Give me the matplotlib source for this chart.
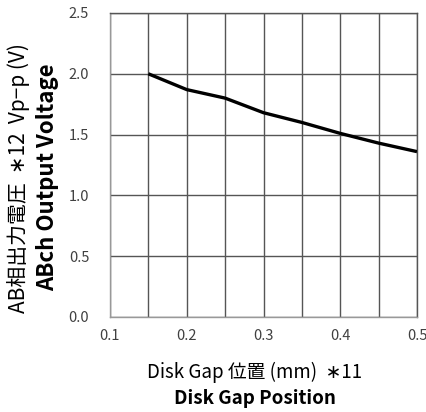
import matplotlib
matplotlib.use('Agg')
import matplotlib.pyplot as plt
import numpy as np

plt.rcParams['font.family'] = ['Noto Sans CJK JP', 'DejaVu Sans']

# data
gap_mm = [0.15, 0.20, 0.25, 0.30, 0.35, 0.40, 0.45, 0.50]
output_v = [2.00, 1.87, 1.80, 1.68, 1.60, 1.51, 1.43, 1.36]

x_ticks = [0.1, 0.2, 0.3, 0.4, 0.5]
x_ticklabels = ['0.1', '0.2', '0.3', '0.4', '0.5']
y_ticks = [0.0, 0.5, 1.0, 1.5, 2.0, 2.5]
y_ticklabels = ['0.0', '0.5', '1.0', '1.5', '2.0', '2.5']

xlabel_jp = 'Disk Gap 位置 (mm)  \u221711'
xlabel_en = 'Disk Gap Position'
ylabel_jp = 'AB相出力電圧  \u221712  Vp\u2212p (V)'
ylabel_en = 'ABch Output Voltage'

W, H = 427, 412
fig = plt.figure(figsize=(W / 100, H / 100), dpi=100)
ax = fig.add_axes([110 / W, 95 / H, 307 / W, 304 / H])

ax.plot(gap_mm, output_v, color='black', lw=2.4, solid_capstyle='butt', zorder=3)

ax.set_xlim(0.1, 0.5)
ax.set_ylim(0.0, 2.5)
ax.set_xticks(x_ticks)
ax.set_xticklabels(x_ticklabels, fontsize=10.5, color='#404040')
ax.set_xticks(np.arange(0.15, 0.5, 0.1), minor=True)
ax.set_yticks(y_ticks)
ax.set_yticklabels(y_ticklabels, fontsize=10.5, color='#404040')
ax.tick_params(axis='x', which='both', length=0, pad=9)
ax.tick_params(axis='y', which='both', length=0, pad=15)
ax.grid(True, which='both', color='#555555', lw=1.0)
for s in ax.spines.values():
    s.set_color('#555555')
    s.set_linewidth(1.0)
ax.spines['left'].set_color('#999999')
ax.spines['bottom'].set_color('#999999')

# two-line axis titles (japanese + english), placed in pixels
fig.text(255, H - 372, xlabel_jp, transform=None, fontsize=13.5,
         ha='center', va='center')
fig.text(255, H - 399, xlabel_en, transform=None, fontsize=13.5,
         fontweight='bold', ha='center', va='center')
fig.text(18, H - 178, ylabel_jp, transform=None, fontsize=15, rotation=90,
         ha='center', va='center')
fig.text(48, H - 177, ylabel_en, transform=None, fontsize=16,
         fontweight='bold', rotation=90, ha='center', va='center')

fig.savefig('out.png', dpi=100)
